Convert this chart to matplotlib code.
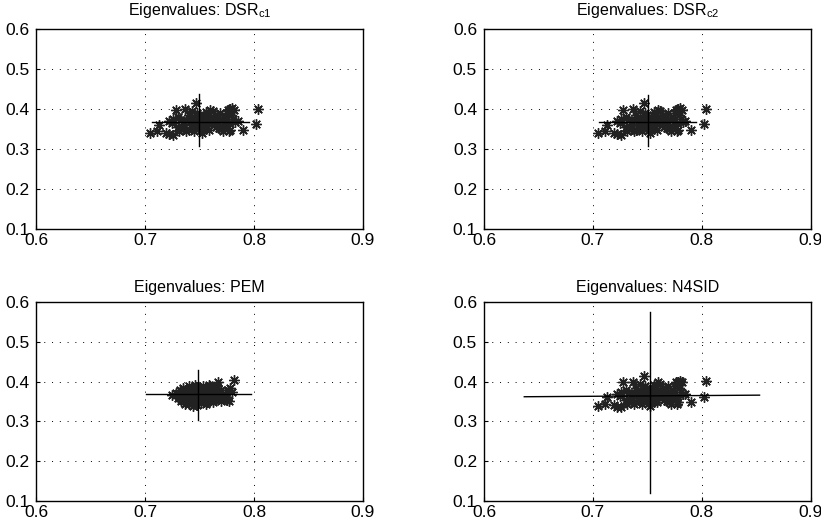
import matplotlib
matplotlib.use('Agg')
import matplotlib.pyplot as plt

plt.rcParams['font.family'] = ['Liberation Sans', 'DejaVu Sans']
plt.rcParams['mathtext.fontset'] = 'custom'
plt.rcParams['mathtext.rm'] = 'Liberation Sans'

# eigenvalue estimates (real part, imaginary part) for DSR / N4SID runs
dsrX = [0.705, 0.711, 0.713, 0.719, 0.722, 0.726, 0.728, 0.722, 0.725, 0.730,
        0.733, 0.735, 0.737, 0.738, 0.740, 0.742, 0.743, 0.745, 0.747, 0.748,
        0.749, 0.750, 0.752, 0.753, 0.755, 0.756, 0.757, 0.758, 0.760, 0.762,
        0.763, 0.765, 0.766, 0.768, 0.770, 0.772, 0.774, 0.775, 0.776, 0.777,
        0.778, 0.779, 0.780, 0.781, 0.782, 0.783, 0.785, 0.778, 0.790, 0.802,
        0.804, 0.730, 0.735, 0.738, 0.740, 0.744, 0.746, 0.748, 0.751, 0.754,
        0.756, 0.759, 0.761, 0.764, 0.767, 0.771, 0.773, 0.777, 0.779, 0.726,
        0.731, 0.741, 0.750, 0.752, 0.757, 0.762, 0.745, 0.753, 0.760, 0.769]
dsrY = [0.340, 0.345, 0.361, 0.341, 0.337, 0.335, 0.398, 0.370, 0.365, 0.355,
        0.372, 0.350, 0.400, 0.345, 0.385, 0.360, 0.395, 0.375, 0.415, 0.390,
        0.355, 0.370, 0.340, 0.380, 0.360, 0.350, 0.385, 0.370, 0.398, 0.395,
        0.365, 0.355, 0.375, 0.352, 0.350, 0.345, 0.380, 0.390, 0.398, 0.345,
        0.400, 0.385, 0.402, 0.375, 0.398, 0.368, 0.370, 0.348, 0.348, 0.362,
        0.401, 0.380, 0.362, 0.372, 0.348, 0.365, 0.352, 0.378, 0.362, 0.372,
        0.392, 0.348, 0.362, 0.385, 0.362, 0.372, 0.358, 0.365, 0.392, 0.375,
        0.345, 0.375, 0.385, 0.350, 0.358, 0.378, 0.345, 0.368, 0.372, 0.390]

# eigenvalue estimates for PEM runs
pemX = [0.725, 0.728, 0.730, 0.732, 0.733, 0.735, 0.736, 0.737, 0.738, 0.739,
        0.740, 0.741, 0.742, 0.743, 0.744, 0.745, 0.746, 0.747, 0.748, 0.749,
        0.750, 0.751, 0.752, 0.753, 0.754, 0.755, 0.756, 0.757, 0.758, 0.759,
        0.760, 0.761, 0.762, 0.763, 0.764, 0.765, 0.766, 0.767, 0.768, 0.769,
        0.770, 0.771, 0.772, 0.773, 0.774, 0.775, 0.776, 0.777, 0.778, 0.780,
        0.782, 0.734, 0.738, 0.742, 0.746, 0.750, 0.754, 0.758, 0.744, 0.752,
        0.740, 0.748, 0.756, 0.762, 0.770, 0.731, 0.760, 0.766, 0.739, 0.747]
pemY = [0.367, 0.372, 0.360, 0.378, 0.352, 0.385, 0.365, 0.345, 0.375, 0.358,
        0.388, 0.368, 0.350, 0.380, 0.340, 0.362, 0.392, 0.372, 0.355, 0.383,
        0.365, 0.347, 0.376, 0.390, 0.358, 0.370, 0.385, 0.350, 0.378, 0.392,
        0.362, 0.372, 0.355, 0.385, 0.368, 0.378, 0.360, 0.400, 0.372, 0.362,
        0.380, 0.365, 0.358, 0.370, 0.362, 0.355, 0.378, 0.352, 0.385, 0.375,
        0.404, 0.370, 0.362, 0.378, 0.368, 0.378, 0.366, 0.362, 0.355, 0.360,
        0.345, 0.342, 0.345, 0.350, 0.352, 0.365, 0.390, 0.388, 0.352, 0.386]

# mean and spread cross: (x_left, x_right, y_left, y_right) and (x, y_low, y_high)
titles = [r'Eigenvalues: DSR$_{\rm c1}$', r'Eigenvalues: DSR$_{\rm c2}$',
          'Eigenvalues: PEM', 'Eigenvalues: N4SID']
hLines = [(0.706, 0.795, 0.368, 0.368), (0.706, 0.795, 0.368, 0.368),
          (0.701, 0.797, 0.369, 0.369), (0.637, 0.853, 0.362, 0.366)]
vLines = [(0.7495, 0.308, 0.437), (0.7505, 0.308, 0.435),
          (0.749, 0.304, 0.429), (0.752, 0.121, 0.576)]
xTicks = [0.6, 0.7, 0.8, 0.9]
yTicks = [0.1, 0.2, 0.3, 0.4, 0.5, 0.6]

fig = plt.figure(figsize=(8.21, 5.27), dpi=100)
positions = [[0.044, 0.5655, 0.398, 0.3795], [0.5895, 0.5655, 0.398, 0.3795],
             [0.044, 0.0493, 0.398, 0.3776], [0.5895, 0.0493, 0.398, 0.3776]]
titlePads = [10, 10, 7, 7]

for i in range(4):
    ax = fig.add_axes(positions[i])
    if i == 2:
        xs, ys = pemX, pemY
    else:
        xs, ys = dsrX, dsrY
    ax.plot(xs, ys, linestyle='none', marker=(8, 2, 0), markersize=7.5,
            markeredgewidth=1.0, color='#222222')
    h = hLines[i]
    ax.plot([h[0], h[1]], [h[2], h[3]], color='black', linewidth=1)
    v = vLines[i]
    ax.plot([v[0], v[0]], [v[1], v[2]], color='black', linewidth=1)
    ax.set_xlim(0.6, 0.9)
    ax.set_ylim(0.1, 0.6)
    ax.set_xticks(xTicks)
    ax.set_yticks(yTicks)
    ax.set_xticklabels([str(t) for t in xTicks])
    ax.set_yticklabels([str(t) for t in yTicks])
    ax.tick_params(direction='in', length=3, labelsize=12.5)
    ax.tick_params(axis='x', pad=3)
    ax.tick_params(axis='y', pad=5)
    ax.grid(True, linestyle=(0, (1, 7)), color='black', linewidth=0.7)
    for s in ax.spines.values():
        s.set_linewidth(1)
    ax.set_title(titles[i], fontsize=11.5, pad=titlePads[i])

fig.savefig('out.png', dpi=100)
